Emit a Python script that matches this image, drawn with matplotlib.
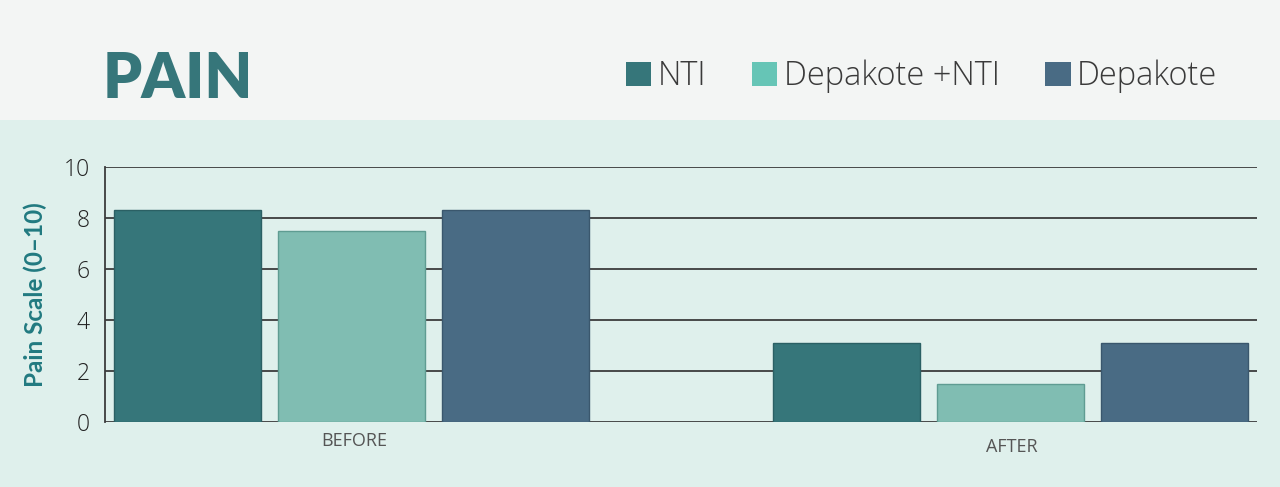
import matplotlib
matplotlib.use("Agg")
import matplotlib.pyplot as plt
from matplotlib.patches import Rectangle, Patch
from matplotlib.transforms import blended_transform_factory
import numpy as np

# ---- data ----
groups = ["BEFORE", "AFTER"]
series = ["NTI", "Depakote +NTI", "Depakote"]
nti = [8.3, 3.1]
depakote_nti = [7.5, 1.5]
depakote = [8.3, 3.1]
yticks = [0, 2, 4, 6, 8, 10]

bar_colors = ["#36767a", "#80bdb2", "#496b84"]
edge_colors = ["#2b6064", "#5f9c92", "#3a576d"]
legend_colors = ["#36767a", "#66c5b6", "#496b84"]

W, H = 1280, 487
fig = plt.figure(figsize=(W / 100, H / 100), dpi=100)
fig.patch.set_facecolor("#dff0ec")
fig.patches.append(Rectangle((0, 1 - 120 / H), 1, 120 / H, transform=fig.transFigure,
                             facecolor="#f3f5f4", edgecolor="none", zorder=0))

ax = fig.add_axes([105 / W, 1 - 422 / H, (1257 - 105) / W, (422 - 167) / H])
ax.set_facecolor("none")

x = np.arange(len(groups))
step = 0.249
width = 0.2234
for i, vals in enumerate([nti, depakote_nti, depakote]):
    ax.bar(x + (i - 1) * step, vals, width, color=bar_colors[i],
           edgecolor=edge_colors[i], linewidth=1.0, zorder=3, label=series[i])

ax.set_xlim(-0.375, 1.375)
ax.set_ylim(0, 10)
ax.set_yticks(yticks)
ax.yaxis.grid(True, color="#3c3c3c", linewidth=1.3, zorder=1)
ax.set_axisbelow(True)
for s in ["top", "right", "bottom"]:
    ax.spines[s].set_visible(False)
ax.spines["left"].set_color("#3c3c3c")
ax.spines["left"].set_linewidth(1.3)
ax.tick_params(axis="y", length=0, pad=11, labelsize=16.5, labelcolor="#222222")
ax.tick_params(axis="x", length=0)
for lab in ax.get_yticklabels():
    lab.set_fontfamily("Open Sans")
    lab.set_fontweight("light")
ax.set_xticks([])

# x labels (second one sits slightly lower in the reference)
label_offsets = [441.5, 447]
trans = blended_transform_factory(ax.transData, fig.transFigure)
for xi, g, py in zip(x, groups, label_offsets):
    ax.text(xi + 0.003, 1 - py / H, g, transform=trans,
            ha="center", va="center", fontsize=13, color="#555555", family="Open Sans")

fig.text(35 / W, 1 - 295 / H, "Pain Scale (0–10)", rotation=90, ha="center", va="center",
         fontsize=17.5, fontweight="bold", color="#217a80", family="Lato")

fig.text(103 / W, 1 - 98 / H, "PAIN", ha="left", va="baseline", fontsize=44.5,
         fontweight="heavy", color="#36767a", family="Lato")

handles = [Patch(facecolor=c, edgecolor="none") for c in legend_colors]
fig.legend(handles, series, loc="center left", bbox_to_anchor=(626 / W, 1 - 76.5 / H),
           ncol=3, frameon=False, borderpad=0, borderaxespad=0,
           handlelength=0.78, handleheight=0.78, handletextpad=0.19, columnspacing=1.4,
           prop={"family": "Open Sans", "weight": "light", "size": 23.5}, labelcolor="#3a3a3a")

fig.savefig("out.png", dpi=100, facecolor=fig.get_facecolor())
